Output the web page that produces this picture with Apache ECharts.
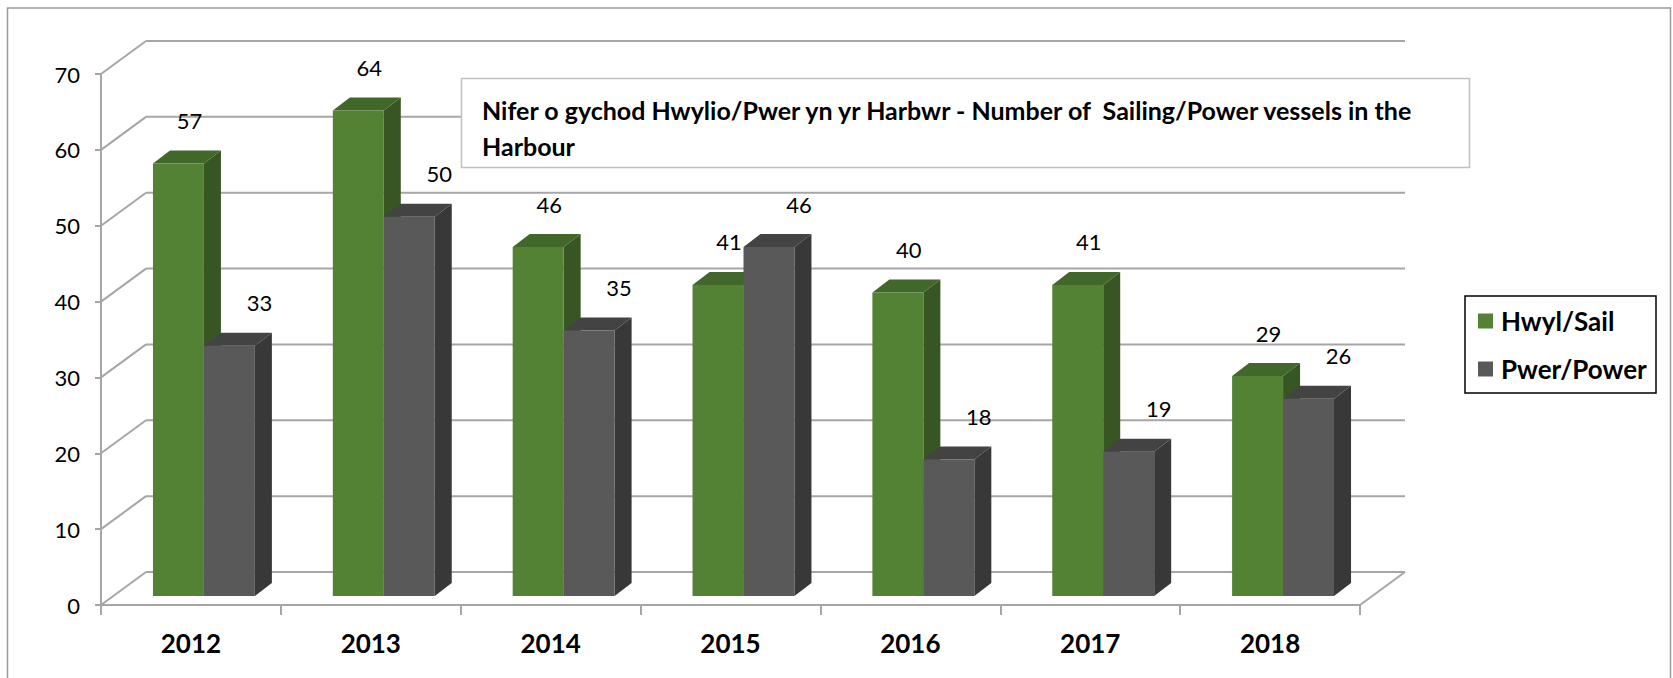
<!DOCTYPE html>
<html><head><meta charset="utf-8">
<script src="https://cdn.jsdelivr.net/npm/echarts@6/dist/echarts.min.js"></script>
<style>html,body{margin:0;padding:0;background:#fff}#c{width:1673px;height:678px}</style>
</head><body><div id="c"></div>
<script>
// ---- data ----
const years = ['2012','2013','2014','2015','2016','2017','2018'];
const sail = [57,64,46,41,40,41,29];
const power = [33,50,35,46,18,19,26];
const yTicks = [0,10,20,30,40,50,60,70];
const seriesNames = ['Hwyl/Sail','Pwer/Power'];
const titleText = 'Nifer o gychod Hwylio/Pwer yn yr Harbwr - Number of  Sailing/Power vessels in the\nHarbour';

// ---- styling ----
const FONT = 'Lato, "Open Sans", sans-serif';
const WALL_DX = 45, WALL_DY = -33;
const BAR_DX = 13, BAR_DY = -9;
const DEPTH_DX = 17, DEPTH_DY = -13;
const BAR_FRAC = 51/180;
const LINE = '#a6a6a6';
const palettes = [
  {front:'#548235', top:'#42672a', side:'#375623'},
  {front:'#595959', top:'#434343', side:'#383838'}
];
const labelDX = [11, 30], labelDY = -43;

function barRenderer(k){
  return function(params, api){
    const i = api.value(0), v = api.value(1);
    const p = api.coord([i, v]), p0 = api.coord([i, 0]);
    const band = api.size([1, 0])[0];
    const w = band * BAR_FRAC;
    const cx = p[0] + BAR_DX;
    const x0 = k === 0 ? cx - w : cx, x1 = x0 + w;
    const top = p[1] + BAR_DY, bot = p0[1] + BAR_DY;
    const c = palettes[k];
    return {type:'group', children:[
      {type:'polygon', shape:{points:[[x1,bot],[x1+DEPTH_DX,bot+DEPTH_DY],[x1+DEPTH_DX,top+DEPTH_DY],[x1,top]]}, style:{fill:c.side}},
      {type:'polygon', shape:{points:[[x0,top],[x0+DEPTH_DX,top+DEPTH_DY],[x1+DEPTH_DX,top+DEPTH_DY],[x1,top]]}, style:{fill:c.top}},
      {type:'rect', shape:{x:x0, y:top, width:w, height:bot-top}, style:{fill:c.front}},
      {type:'text', style:{text:String(v), x:(x0+x1)/2 + labelDX[k], y:top + labelDY,
        align:'center', verticalAlign:'middle', fill:'#000', fontSize:22, fontFamily:FONT}}
    ]};
  };
}

function wallRenderer(params, api){
  const v = api.value(1);
  const cs = params.coordSys;
  const y = api.coord([0, v])[1];
  const L = cs.x, R = cs.x + cs.width;
  const st = {stroke:LINE, lineWidth:2};
  const ch = [
    {type:'line', shape:{x1:L, y1:y, x2:L+WALL_DX, y2:y+WALL_DY}, style:st},
    {type:'line', shape:{x1:L+WALL_DX, y1:y+WALL_DY, x2:R+WALL_DX, y2:y+WALL_DY}, style:st}
  ];
  if (v === 0) ch.push({type:'line', shape:{x1:R, y1:y, x2:R+WALL_DX, y2:y+WALL_DY}, style:st});
  return {type:'group', children:ch};
}

const chart = echarts.init(document.getElementById('c'), null, {renderer:'svg'});
chart.setOption({
  backgroundColor:'#fff',
  animation:false,
  textStyle:{fontFamily:FONT},
  title:{
    text:titleText, left:482, top:92, padding:0, z:20,
    textStyle:{fontFamily:FONT, fontWeight:'bold', fontSize:25, lineHeight:36, color:'#000'}
  },
  graphic:[
    {type:'rect', z:-10, shape:{x:7.5, y:8, width:1663, height:700}, style:{fill:'#fff', stroke:'#9a9a9a', lineWidth:1.5}},
    {type:'rect', z:15, shape:{x:461.5, y:78.5, width:1008, height:89}, style:{fill:'#fff', stroke:'#c0c0c0', lineWidth:1.5}},
    {type:'rect', z:15, shape:{x:1465, y:296, width:191, height:97}, style:{fill:'#fff', stroke:'#000', lineWidth:1.5}}
  ],
  legend:{
    data:seriesNames, orient:'vertical', left:1478, top:306, padding:0, z:20,
    itemWidth:15, itemHeight:15, itemGap:18, icon:'rect',
    textStyle:{fontFamily:FONT, fontWeight:'bold', fontSize:26, lineHeight:30, color:'#000', padding:[0,0,0,3]}
  },
  grid:{left:101, right:313, top:74, bottom:73},
  xAxis:{
    type:'category', data:years,
    axisLine:{lineStyle:{color:LINE, width:2}},
    axisTick:{show:true, length:10, lineStyle:{color:LINE, width:2}},
    axisLabel:{fontFamily:FONT, fontWeight:'bold', fontSize:26, color:'#000', margin:25},
    splitLine:{show:false}
  },
  yAxis:{
    type:'value', min:0, max:70, interval:10,
    axisLine:{show:true, lineStyle:{color:LINE, width:2}},
    axisTick:{show:true, length:6, lineStyle:{color:LINE, width:2}},
    axisLabel:{fontFamily:FONT, fontSize:22, color:'#000', margin:21},
    splitLine:{show:false}
  },
  series:[
    {type:'custom', name:'walls', z:1, silent:true, renderItem:wallRenderer,
     data:yTicks.map(v => [0, v])},
    {type:'custom', name:seriesNames[0], z:2, renderItem:barRenderer(0),
     itemStyle:{color:palettes[0].front}, data:sail.map((v,i) => [i, v])},
    {type:'custom', name:seriesNames[1], z:3, renderItem:barRenderer(1),
     itemStyle:{color:palettes[1].front}, data:power.map((v,i) => [i, v])}
  ]
});
</script></body></html>
